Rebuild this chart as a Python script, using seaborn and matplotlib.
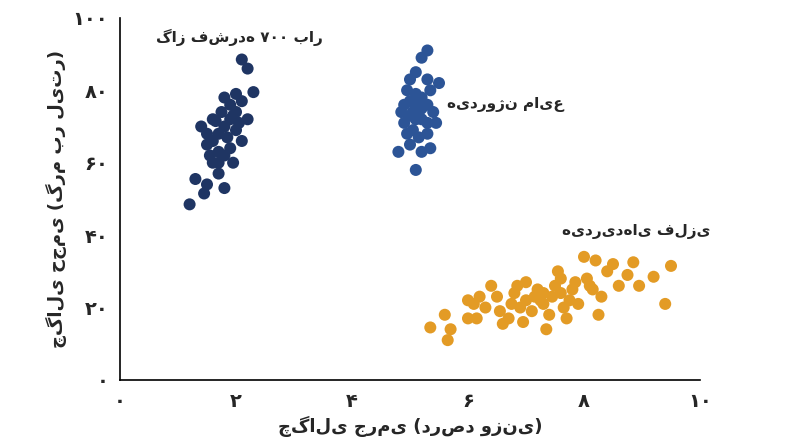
import matplotlib
matplotlib.use("Agg")
import matplotlib.pyplot as plt
import seaborn as sns
import pandas as pd

gas_x = [1.2, 1.3, 1.45, 1.5, 1.6, 1.5, 1.4, 1.5, 1.6, 1.7, 1.8, 1.7, 1.8, 1.9, 1.8, 1.9, 2.0, 2.1,
         1.75, 1.9, 2.0, 2.1, 1.8, 1.95, 2.2, 2.3, 2.1, 2.2, 1.6, 1.7, 2.0, 1.85, 2.05, 1.65, 1.55, 1.95, 1.7]
gas_y = [48.5, 55.5, 51.5, 54, 60, 65, 70, 68, 66, 63, 53, 57, 62, 64, 70, 72, 69, 66,
         74, 76, 79, 77, 78, 73, 72, 79.5, 88.5, 86, 72, 68, 74, 67, 71, 71.5, 62, 60, 60]

liq_x = [5.3, 5.2, 5.1, 5.0, 5.3, 4.95, 5.1, 5.2, 5.35, 5.5, 4.9, 5.0, 5.1, 5.2, 5.3, 5.4, 5.0, 5.1,
         5.2, 5.3, 5.45, 4.9, 4.95, 5.05, 5.15, 5.3, 5.35, 5.0, 5.2, 4.8, 5.1, 5.25, 5.15, 5.05, 4.85]
liq_y = [91, 89, 85, 83, 83, 80, 79, 78, 80, 82, 76, 77, 76, 75, 76, 74, 73, 72,
         72, 71, 71, 71, 68, 69, 67, 68, 64, 65, 63, 63, 58, 76, 74, 74, 74]

met_x = [5.35, 5.6, 5.7, 5.65, 6.0, 6.1, 6.2, 6.15, 6.3, 6.4, 6.5, 6.55, 6.6, 6.7, 6.75, 6.8, 6.85,
         6.9, 6.95, 7.0, 7.1, 7.15, 7.2, 7.25, 7.3, 7.35, 7.4, 7.45, 7.5, 7.55, 7.6, 7.65, 7.7, 7.75,
         7.8, 7.85, 7.9, 8.0, 8.05, 8.1, 8.2, 8.15, 8.25, 8.3, 8.4, 8.5, 8.6, 8.75, 8.85, 8.95, 9.2,
         9.4, 9.5, 7.0, 7.3, 6.0, 7.6]
met_y = [14.5, 18, 14, 11, 17, 21, 23, 17, 20, 26, 23, 19, 15.5, 17, 21, 24, 26,
         20, 16, 22, 19, 23, 25, 22, 21, 14, 18, 23, 26, 30, 24, 20, 17, 22,
         25, 27, 21, 34, 28, 26, 33, 25, 18, 23, 30, 32, 26, 29, 32.5, 26, 28.5,
         21, 31.5, 27, 24, 22, 28]

groups = ["گاز فشرده ۷۰۰ بار", "هیدروژن مایع", "هیدریدهای فلزی"]
colors = ["#1f3563", "#2c5496", "#e39b25"]
x_ticks = [0, 2, 4, 6, 8, 10]
x_labels = ["۰", "۲", "۴", "۶", "۸", "۱۰"]
y_ticks = [0, 20, 40, 60, 80, 100]
y_labels = ["۰", "۲۰", "۴۰", "۶۰", "۸۰", "۱۰۰"]

df = pd.DataFrame({
    "x": gas_x + liq_x + met_x,
    "y": gas_y + liq_y + met_y,
    "g": [groups[0]] * len(gas_x) + [groups[1]] * len(liq_x) + [groups[2]] * len(met_x),
})

sns.set_style("white")
plt.rcParams["font.family"] = ["DejaVu Sans"]

fig = plt.figure(figsize=(8, 4.47), dpi=100)
ax = fig.add_axes([0.15, 0.15, 0.725, 0.81])
sns.scatterplot(data=df, x="x", y="y", hue="g", palette=colors, s=75,
                edgecolor="none", legend=False, ax=ax)

ax.set_xlim(0, 10)
ax.set_ylim(0, 100)
ax.set_xticks(x_ticks)
ax.set_xticklabels(x_labels, fontsize=14, fontweight="bold")
ax.set_yticks(y_ticks)
ax.set_yticklabels(y_labels, fontsize=14, fontweight="bold")
ax.tick_params(direction="out", length=5, width=1.2, color="black")
sns.despine(ax=ax)
for s in ["left", "bottom"]:
    ax.spines[s].set_color("black")
    ax.spines[s].set_linewidth(1.2)

ax.set_xlabel("چگالی جرمی (درصد وزنی)", fontsize=13, fontweight="bold")
ax.set_ylabel("چگالی حجمی (گرم بر لیتر)", fontsize=13, fontweight="bold")

ax.text(2.05, 94.5, groups[0], fontsize=11, fontweight="bold", ha="center", va="center")
ax.text(6.65, 76, groups[1], fontsize=11, fontweight="bold", ha="center", va="center")
ax.text(8.9, 41, groups[2], fontsize=11, fontweight="bold", ha="center", va="center")

fig.savefig("out.png", dpi=100)
